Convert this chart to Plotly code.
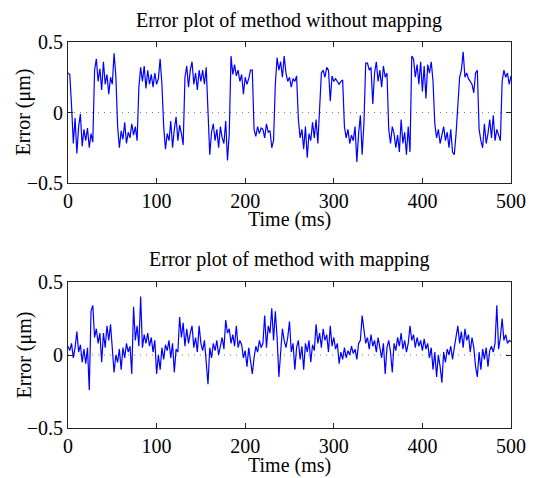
import plotly.graph_objects as go
from plotly.subplots import make_subplots

# time samples (ms), 2 ms spacing
time_ms = list(range(0, 501, 2))

# Error without mapping (um)
err_without = [
    0.28, 0.27, 0.05,
    -0.22, -0.04, -0.29, -0.10, -0.01, -0.24, -0.12, -0.20, -0.11, -0.25, -0.15, -0.21,
    0.30, 0.38, 0.22, 0.31, 0.16, 0.36, 0.20, 0.27, 0.13, 0.25, 0.20, 0.42, 0.26,
    -0.10, -0.25, -0.13, -0.19, -0.07, -0.22, -0.14, -0.18, -0.08, -0.16, -0.10, -0.20,
    0.18, 0.32, 0.22, 0.33, 0.17, 0.30, 0.20, 0.27, 0.18, 0.28, 0.20, 0.24, 0.38, 0.20,
    -0.10, -0.26, -0.15, -0.20, -0.06, -0.25, -0.12, -0.03, -0.20, -0.09, -0.15, -0.23,
    0.25, 0.33, 0.18, 0.30, 0.36, 0.20, 0.28, 0.16, 0.30, 0.22, 0.30, 0.20, 0.32,
    -0.05, -0.30, -0.14, -0.08, -0.20, -0.12, -0.25, -0.10, -0.18, -0.22, -0.06, -0.34, -0.15,
    0.40, 0.27, 0.34, 0.26, 0.30, 0.22, 0.27, 0.13, 0.25, 0.20, 0.24, 0.30, 0.30,
    -0.12, -0.17, -0.10, -0.15, -0.11, -0.12, -0.18, -0.08, -0.14, -0.13, -0.25, -0.20,
    0.20, 0.39, 0.30, 0.36, 0.25, 0.40, 0.28, 0.22, 0.25, 0.18, 0.24, 0.22, 0.26,
    -0.05, -0.18, -0.12, -0.26, -0.10, -0.32, -0.15, -0.20, -0.07, -0.18, -0.05, -0.22, -0.01,
    0.28, 0.30, 0.25, 0.32, 0.30, 0.08, 0.26, 0.22, 0.24, 0.22, 0.20, 0.22, 0.23,
    -0.10, -0.18, -0.12, -0.22, -0.16, -0.20, -0.10, -0.35, -0.15, -0.02, -0.30, -0.08,
    0.35, 0.35, 0.30, 0.32, 0.06, 0.28, 0.36, 0.22, 0.30, 0.18, 0.33, 0.25, 0.28,
    -0.12, -0.22, -0.10, -0.15, -0.25, -0.16, -0.28, -0.05, -0.22, -0.14, -0.30, -0.10, -0.28,
    0.40, 0.38, 0.25, 0.34, 0.20, 0.36, 0.15, 0.33, 0.10, 0.34, 0.28, 0.36, 0.22,
    -0.08, -0.18, -0.12, -0.22, -0.16, -0.10, -0.20, -0.14, -0.25, -0.12, -0.28, -0.30, -0.15,
    0.05, 0.25, 0.30, 0.43, 0.25, 0.28, 0.24, 0.22, 0.20, 0.14, 0.28, 0.30,
    -0.12, -0.20, -0.25, -0.08, -0.22, -0.15, -0.05, -0.18, -0.02, -0.20, -0.12, -0.16, -0.20,
    0.22, 0.30, 0.25, 0.28, 0.20, 0.26,
]

# Error with mapping (um)
err_with = [
    0.06, 0.03, 0.08, -0.02, 0.05,
    0.16, 0.02, 0.07, -0.05, 0.04,
    -0.06, 0.05, -0.24, 0.30, 0.34,
    0.12, 0.18, 0.08, 0.15, -0.05,
    0.15, 0.05, 0.20, 0.10, 0.21,
    0.02, -0.12, 0.00, -0.05, 0.04,
    -0.10, 0.05, -0.02, 0.08, 0.02,
    0.06, -0.13, 0.33, 0.10, 0.20,
    0.06, 0.40, 0.05, 0.14, 0.08,
    0.15, 0.06, 0.12, 0.02, 0.10,
    -0.13, 0.00, -0.10, 0.05, -0.03,
    0.07, 0.03, 0.10, -0.02, 0.08,
    -0.12, 0.04, 0.02, 0.26, 0.12,
    0.22, 0.06, 0.18, 0.08, 0.15,
    0.20, 0.05, 0.12, 0.02, 0.20,
    0.08, 0.03, 0.10, -0.05, -0.20,
    0.05, -0.02, 0.08, 0.03, 0.10,
    0.00, 0.06, 0.12, 0.04, 0.24,
    0.15, 0.18, 0.08, 0.14, 0.06,
    0.20, 0.05, 0.10, 0.07, -0.02,
    0.03, -0.08, 0.05, -0.05, -0.13,
    -0.02, 0.06, 0.02, 0.10, 0.05,
    0.08, 0.27, 0.05, 0.20, 0.15,
    0.32, 0.10, 0.30, 0.12, -0.15,
    0.02, 0.18, 0.10, 0.05, 0.12,
    0.23, 0.02, 0.08, -0.10, 0.05,
    0.10, -0.03, 0.06, -0.10, 0.08,
    0.02, 0.10, -0.05, 0.07, 0.03,
    0.21, 0.08, 0.15, 0.05, 0.18,
    0.10, 0.14, 0.02, 0.20, 0.06,
    0.12, 0.04, 0.08, -0.06, 0.02,
    -0.03, 0.05, -0.02, 0.03, 0.00,
    0.06, 0.01, 0.04, -0.03, 0.08,
    0.10, 0.27, 0.15, 0.08, 0.12,
    0.04, 0.14, 0.06, 0.10, 0.02,
    0.12, 0.06, -0.02, 0.08, -0.13,
    0.05, 0.10, 0.02, -0.12, 0.08,
    0.03, 0.12, 0.06, 0.15, 0.04,
    0.10, 0.02, 0.08, 0.20, 0.10,
    0.14, 0.05, 0.12, 0.06, 0.10,
    0.03, 0.11, 0.04, 0.08, -0.02,
    0.05, -0.10, 0.02, -0.15, 0.00,
    -0.08, -0.19, 0.02, -0.05, 0.04,
    0.00, 0.06, -0.03, 0.05, 0.12,
    0.20, 0.08, 0.16, 0.05, 0.18,
    0.10, 0.14, 0.02, 0.12, 0.05,
    -0.08, -0.15, 0.02, -0.10, 0.04,
    -0.03, 0.05, -0.08, 0.03, 0.06,
    0.02, 0.08, 0.34, 0.04, 0.12,
    0.25, 0.10, 0.14, 0.08, 0.10,
    0.09,
]

titles = ["Error plot of method without mapping", "Error plot of method with mapping"]
x_ticks = [0, 100, 200, 300, 400, 500]
y_ticks = [-0.5, 0, 0.5]

# page body has an 8px margin, so the figure is drawn from (8, 8)
OFF = 8
W, H = 538 - OFF, 478 - OFF
ML, MR, MT, MB = 68 - OFF, 23, 42 - OFF, 50
ph = H - MT - MB
top_dom = [(428 - 183) / ph, 1.0]
bot_dom = [0.0, (428 - 282) / ph]

FONT = "Liberation Serif, Times New Roman, serif"

fig = make_subplots(rows=2, cols=1)
fig.add_trace(go.Scatter(x=time_ms, y=err_without, mode="lines",
                         line=dict(color="#0000ff", width=1.2), showlegend=False), row=1, col=1)
fig.add_trace(go.Scatter(x=time_ms, y=err_with, mode="lines",
                         line=dict(color="#0000ff", width=1.2), showlegend=False), row=2, col=1)

axis_common = dict(showgrid=False, zeroline=False, showline=True, linecolor="#222",
                   linewidth=1, mirror="allticks", ticks="inside", ticklen=5,
                   tickcolor="#222", tickfont=dict(family=FONT, size=20, color="black"))

fig.update_xaxes(range=[0, 500], tickvals=x_ticks, **axis_common)
fig.update_yaxes(range=[-0.5, 0.5], tickvals=y_ticks, **axis_common)
fig.update_layout(yaxis=dict(domain=top_dom), yaxis2=dict(domain=bot_dom))

for yr, xr in [("y", "x"), ("y2", "x2")]:
    fig.add_shape(type="line", xref=f"{xr} domain", yref=yr, x0=0, x1=1, y0=0, y1=0,
                  line=dict(color="#777", width=1, dash="1px,5px"), layer="below")

def py(pix):
    return 1 - (pix - OFF - MT) / ph

def px(pix):
    return (pix - OFF - ML) / (W - ML - MR)

ann = []
for title, ytitle, ylab, yerr in [(titles[0], 20, 219, 112), (titles[1], 259, 466, 355)]:
    ann.append(dict(text=title, x=px(291), y=py(ytitle), xref="paper", yref="paper",
                    showarrow=False, font=dict(family=FONT, size=20, color="black"),
                    xanchor="center", yanchor="middle"))
    ann.append(dict(text="Time (ms)", x=px(291), y=py(ylab), xref="paper", yref="paper",
                    showarrow=False, font=dict(family=FONT, size=20, color="black"),
                    xanchor="center", yanchor="middle"))
    ann.append(dict(text="Error (μm)", x=px(24), y=py(yerr), xref="paper", yref="paper",
                    showarrow=False, textangle=-90, font=dict(family=FONT, size=20, color="black"),
                    xanchor="center", yanchor="middle"))

fig.update_layout(width=W, height=H, margin=dict(l=ML, r=MR, t=MT, b=MB),
                  paper_bgcolor="white", plot_bgcolor="white", annotations=ann)

fig.write_html("out.html")
